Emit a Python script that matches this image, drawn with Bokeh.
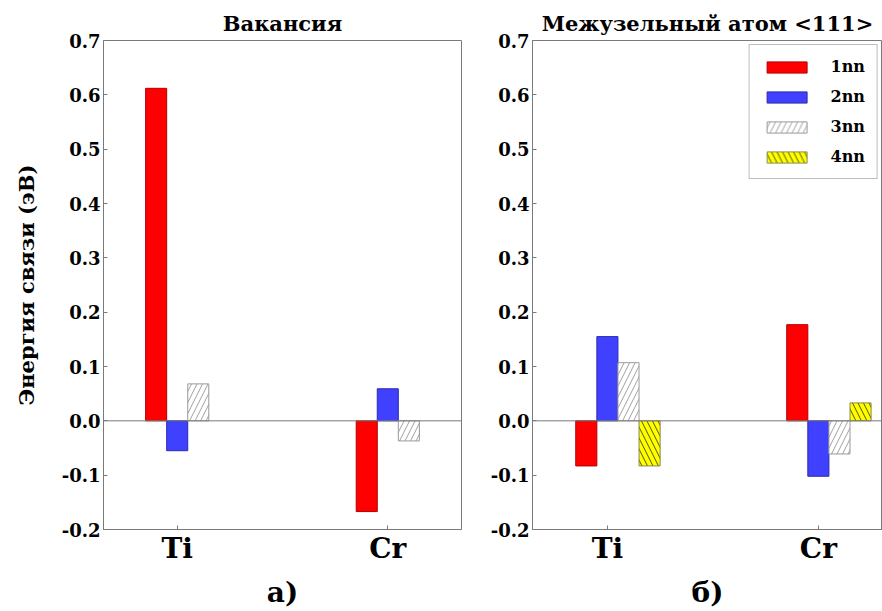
from bokeh.plotting import figure
from bokeh.models import Range1d, FixedTicker, NumeralTickFormatter, Span, Legend, LegendItem
from bokeh.layouts import row
from bokeh.embed import file_html
from bokeh.resources import INLINE

# ---- data ----
cats = ["Ti", "Cr"]
y_ticks = [-0.2, -0.1, 0.0, 0.1, 0.2, 0.3, 0.4, 0.5, 0.6, 0.7]

vac_1nn = [0.612, -0.167]
vac_2nn = [-0.055, 0.059]
vac_3nn = [0.068, -0.037]

int_1nn = [-0.083, 0.177]
int_2nn = [0.155, -0.102]
int_3nn = [0.107, -0.061]
int_4nn = [-0.083, 0.033]

series_names = ["1nn", "2nn", "3nn", "4nn"]
title_a = "Вакансия"
title_b = "Межузельный атом <111>"
ylabel = "Энергия связи (эВ)"

FONT = "DejaVu Serif"
GREY = "#7a7a7a"
BAR_W = 0.1

styles = [
    dict(fill_color="#ff0000", line_color="#b00000"),
    dict(fill_color="#4040ff", line_color="#2a2ab0"),
    dict(fill_color="white", line_color="#9a9a9a", hatch_pattern="/",
         hatch_color="#a0a0a0", hatch_scale=11, hatch_weight=1),
    dict(fill_color="#ffff00", line_color="#8a8a5a", hatch_pattern="\\",
         hatch_color="#555500", hatch_scale=11, hatch_weight=1),
]


def make_fig(width, border_left, border_right, xr, title, xlabel, show_ylabel):
    p = figure(width=width, height=611, output_backend="svg", toolbar_location=None,
               x_range=xr, y_range=Range1d(-0.2, 0.7),
               min_border_left=border_left, min_border_right=border_right,
               min_border_top=40, min_border_bottom=81)
    p.title.text = title
    p.title.align = "center"
    p.title.text_font = FONT
    p.title.text_font_size = "21px"
    p.title.text_font_style = "bold"
    p.title.text_color = "black"
    p.title.standoff = 10
    p.grid.grid_line_color = None
    p.outline_line_color = GREY
    p.background_fill_color = "white"
    p.border_fill_color = "white"

    p.yaxis.ticker = FixedTicker(ticks=y_ticks)
    p.yaxis.formatter = NumeralTickFormatter(format="0.0")
    p.yaxis.major_label_text_font = FONT
    p.yaxis.major_label_text_font_style = "bold"
    p.yaxis.major_label_text_font_size = "18px"
    p.yaxis.major_label_standoff = 3
    if show_ylabel:
        p.yaxis.axis_label = ylabel
        p.yaxis.axis_label_text_font = FONT
        p.yaxis.axis_label_text_font_style = "bold"
        p.yaxis.axis_label_text_font_size = "21px"
        p.yaxis.axis_label_standoff = 20

    p.xaxis.ticker = FixedTicker(ticks=list(range(len(cats))))
    p.xaxis.major_label_overrides = {i: c for i, c in enumerate(cats)}
    p.xaxis.major_label_text_font = FONT
    p.xaxis.major_label_text_font_style = "bold"
    p.xaxis.major_label_text_font_size = "28px"
    p.xaxis.major_label_standoff = 2
    p.xaxis.axis_label = xlabel
    p.xaxis.axis_label_text_font = FONT
    p.xaxis.axis_label_text_font_style = "bold"
    p.xaxis.axis_label_text_font_size = "28px"
    p.xaxis.axis_label_standoff = 8

    for ax in (p.xaxis, p.yaxis):
        ax.axis_line_color = GREY
        ax.major_tick_line_color = GREY
        ax.major_tick_in = 4
        ax.major_tick_out = 0
        ax.minor_tick_line_color = None
        ax.major_label_text_color = "black"
        ax.axis_label_text_color = "black"

    p.add_layout(Span(location=0, dimension="width", line_color=GREY, line_width=1))
    return p


def add_bars(p, series_list, offsets):
    rends = []
    for vals, off, st in zip(series_list, offsets, styles):
        xs = [i + off for i in range(len(cats))]
        r = p.vbar(x=xs, top=vals, bottom=0, width=BAR_W, line_width=1, **st)
        rends.append(r)
    return rends


# left panel: tick at the centre of 3 bars
pa = make_fig(466, 103, 5, Range1d(-0.35, 1.35), title_a, "а)", True)
add_bars(pa, [vac_1nn, vac_2nn, vac_3nn], [-0.1, 0.0, 0.1])

# right panel: tick at start + 1.5 bar widths of 4 bars
pb = make_fig(416, 66, 0, Range1d(-0.355, 1.304), title_b, "б)", False)
rb = add_bars(pb, [int_1nn, int_2nn, int_3nn, int_4nn], [-0.1, 0.0, 0.1, 0.2])

legend = Legend(items=[LegendItem(label=n, renderers=[r]) for n, r in zip(series_names, rb)],
                location="top_right")
legend.label_text_font = FONT
legend.label_text_font_style = "bold"
legend.label_text_font_size = "16px"
legend.label_text_color = "black"
legend.glyph_width = 50
legend.glyph_height = 14
legend.label_height = 14
legend.label_standoff = 19
legend.spacing = 11
legend.padding = 12
legend.margin = 4
legend.border_line_color = GREY
legend.border_line_width = 1
legend.background_fill_alpha = 1
pb.add_layout(legend)

layout = row(pa, pb)
open("out.html", "w").write(file_html(layout, INLINE))
